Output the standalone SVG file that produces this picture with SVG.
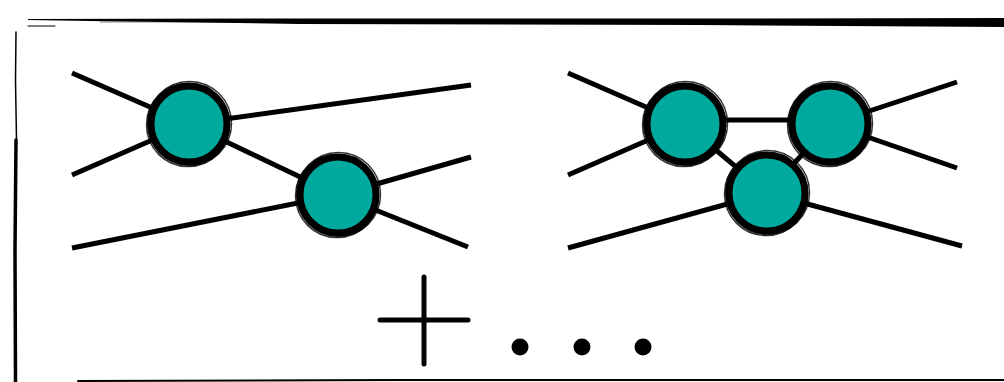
<svg xmlns="http://www.w3.org/2000/svg" width="1004" height="382" viewBox="0 0 1004 382">
<style>
.edge{stroke:#000;stroke-width:5;fill:none;stroke-linecap:butt}
.node{fill:#00A99D;stroke:#000;stroke-width:7}
.sk{fill:none;stroke:#000;stroke-width:1.5;opacity:0.8}
.frame{fill:none;stroke:#000;stroke-linecap:round}
</style>
<defs>
<g id="nd">
<circle class="node" r="38"/>
<circle class="sk" r="42" cx="0.5" cy="-0.5"/>
<circle class="sk" r="41.5" cx="-1" cy="1"/>
<path d="M-30,-26 A40,40 0 0 1 24,-32" class="sk" stroke-width="2"/>
<path d="M-20,33 A40,40 0 0 0 30,28" class="sk" stroke-width="3"/>
</g>
</defs>
<rect width="1004" height="382" fill="#fff"/>
<g id="frame">
<path d="M28,19 L300,18.5 L700,18.5 L1004,18 L1004,27 L700,25 L300,24 L90,21 L28,20 Z" fill="#000"/>
<path class="frame" d="M100,22 L600,22 L1004,23" stroke="#fff" stroke-width="0.8" opacity="0.6"/>
<path class="frame" d="M28,26 L55,26" stroke-width="1"/>
<path class="frame" d="M16,32 L15.5,80 L16.5,140" stroke-width="1.5"/>
<path class="frame" d="M16,140 L15,250 L15.5,382" stroke-width="3.5"/>
<path class="frame" d="M78,381 L400,380 L1004,380" stroke-width="2"/>
</g>
<g id="connectors">
<line class="edge" x1="72" y1="73" x2="189" y2="124"/>
<line class="edge" x1="72" y1="175" x2="189" y2="124"/>
<line class="edge" x1="189" y1="124" x2="471" y2="85"/>
<line class="edge" x1="189" y1="124" x2="338" y2="195"/>
<line class="edge" x1="72" y1="248" x2="338" y2="195"/>
<line class="edge" x1="338" y1="195" x2="471" y2="157"/>
<line class="edge" x1="338" y1="195" x2="468" y2="247"/>
<line class="edge" x1="568" y1="73" x2="685" y2="124"/>
<line class="edge" x1="568" y1="175" x2="685" y2="124"/>
<line class="edge" x1="685" y1="120" x2="830" y2="120"/>
<line class="edge" x1="685" y1="124" x2="767" y2="193"/>
<line class="edge" x1="830" y1="124" x2="767" y2="193"/>
<line class="edge" x1="830" y1="124" x2="957" y2="82"/>
<line class="edge" x1="830" y1="124" x2="957" y2="168"/>
<line class="edge" x1="568" y1="248" x2="767" y2="193"/>
<line class="edge" x1="767" y1="193" x2="962" y2="246"/>
</g>
<g id="n1"><use href="#nd" x="189" y="124"/></g>
<g id="n2"><use href="#nd" x="338" y="195"/></g>
<g id="n3"><use href="#nd" x="685" y="124"/></g>
<g id="n4"><use href="#nd" x="830" y="124"/></g>
<g id="n5"><use href="#nd" x="767" y="193"/></g>
<g id="plus">
<line x1="424" y1="277" x2="424" y2="364" stroke="#000" stroke-width="5" stroke-linecap="round"/>
<line x1="380" y1="320" x2="468" y2="320" stroke="#000" stroke-width="5" stroke-linecap="round"/>
</g>
<g id="dots">
<circle cx="520" cy="347" r="8.5" fill="#000"/>
<circle cx="582" cy="347" r="8.5" fill="#000"/>
<circle cx="643" cy="347" r="8.5" fill="#000"/>
</g>
</svg>
